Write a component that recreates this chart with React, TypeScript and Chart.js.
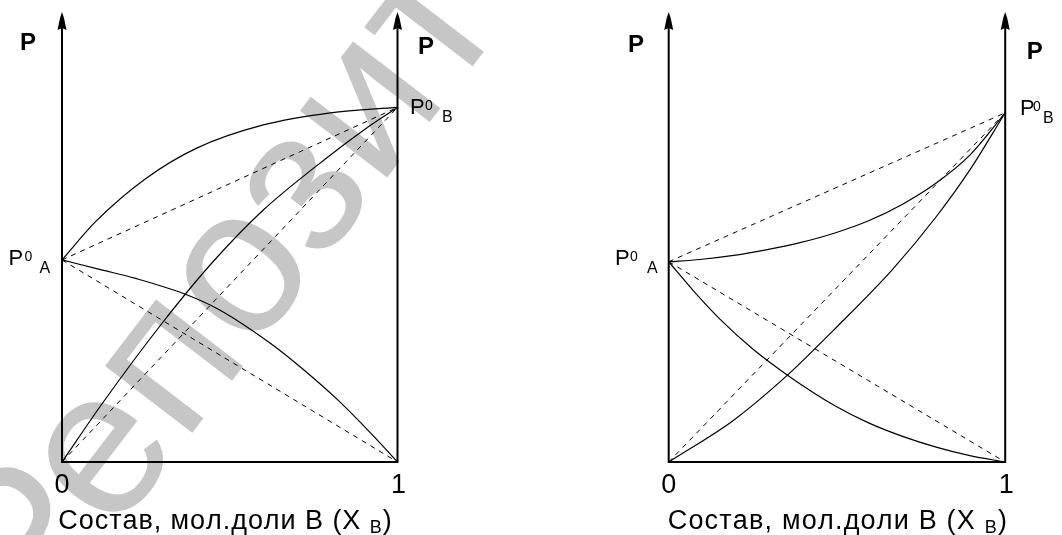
import React, { useEffect, useRef } from 'react';
import { Chart, registerables } from 'chart.js';

Chart.register(...registerables);

const FONT = '"Liberation Sans", Arial, Helvetica, sans-serif';

// Mole-fraction axis ticks and pressure range
const xTicks = [0, 1];
const xTickLabels = ['0', '1'];
const pMax = 100;

// Axis title: "Состав, мол.доли В (Х В)" with subscript В
const axisTitleMain = 'Состав, мол.доли В (Х ';
const axisTitleSub = 'В';
const axisTitleEnd = ')';

// Positive deviation from Raoult's law (left diagram)
const posP0A = 44.9;
const posP0B = 78.8;
const posTotalX = [0, 0.1, 0.25, 0.4, 0.6, 0.8, 1];
const posTotalP = [44.9, 53.4, 63.0, 69.7, 74.9, 77.6, 78.8];
const posAX = [0, 0.118, 0.219, 0.36, 0.47, 0.621, 0.722, 0.822, 0.923, 1];
const posAP = [44.9, 42.7, 40.8, 37.5, 33.8, 26.4, 20.4, 13.8, 6.2, 0];
const posBX = [0, 0.12, 0.3, 0.45, 0.6, 0.75, 0.9, 1];
const posBP = [0, 13.0, 31.0, 44.5, 56.0, 65.3, 73.8, 78.8];

// Negative deviation from Raoult's law (right diagram)
const negP0A = 44.5;
const negP0B = 77.6;
const negTotalX = [0, 0.093, 0.193, 0.293, 0.393, 0.494, 0.594, 0.695, 0.795, 0.895, 1];
const negTotalP = [44.5, 45.0, 45.9, 47.2, 48.8, 50.9, 53.6, 57.3, 62.0, 68.2, 77.6];
const negAX = [0, 0.073, 0.153, 0.25, 0.353, 0.494, 0.594, 0.695, 0.795, 0.895, 1];
const negAP = [44.5, 38.1, 31.7, 25.1, 19.3, 12.5, 8.7, 5.7, 3.3, 1.4, 0];
const negBX = [0, 0.193, 0.353, 0.494, 0.664, 0.795, 0.895, 1];
const negBP = [0, 9.3, 19.3, 29.6, 42.7, 54.5, 64.9, 77.6];

const PANEL_W = 531;
const PANEL_H = 535;

type Layout = {
  left: number;
  padding: { left: number; right: number; top: number; bottom: number };
  pLeft: { dx: number; cy: number };
  pRight: { dx: number; cy: number };
  p0A: { dx: number; dy: number; zeroDx: number; subDx: number };
  p0B: { dx: number; dy: number; zeroDx: number; subDx: number };
  title: { startDx: number; endDx: number };
  watermark: boolean;
};

type Spec = {
  p0A: number;
  p0B: number;
  total: [number[], number[]];
  partA: [number[], number[]];
  partB: [number[], number[]];
  layout: Layout;
};

const specs: Spec[] = [
  {
    p0A: posP0A,
    p0B: posP0B,
    total: [posTotalX, posTotalP],
    partA: [posAX, posAP],
    partB: [posBX, posBP],
    layout: {
      left: 0,
      padding: { left: 62, right: 133.5, top: 12, bottom: 73 },
      pLeft: { dx: -34, cy: 43 },
      pRight: { dx: 28.5, cy: 47 },
      p0A: { dx: -53.5, dy: 5, zeroDx: 16, subDx: 31 },
      p0B: { dx: 12.5, dy: 7, zeroDx: 15, subDx: 32 },
      title: { startDx: -3.7, endDx: -5.8 },
      watermark: true,
    },
  },
  {
    p0A: negP0A,
    p0B: negP0B,
    total: [negTotalX, negTotalP],
    partA: [negAX, negAP],
    partB: [negBX, negBP],
    layout: {
      left: 531,
      padding: { left: 137.7, right: 56.8, top: 12, bottom: 73 },
      pLeft: { dx: -32.7, cy: 45.5 },
      pRight: { dx: 29.5, cy: 52 },
      p0A: { dx: -53.7, dy: 3.5, zeroDx: 15, subDx: 32 },
      p0B: { dx: 14.8, dy: 2.5, zeroDx: 13, subDx: 23 },
      title: { startDx: -1, endDx: 1.7 },
      watermark: false,
    },
  },
];

const points = (xs: number[], ps: number[]) => xs.map((x, i) => ({ x, y: ps[i] }));

const solid = (data: { x: number; y: number }[]) => ({
  data,
  borderColor: '#000',
  borderWidth: 1.2,
  pointRadius: 0,
  fill: false,
  cubicInterpolationMode: 'monotone' as const,
});

const dashed = (data: { x: number; y: number }[]) => ({
  data,
  borderColor: '#000',
  borderWidth: 1,
  borderDash: [5, 5],
  pointRadius: 0,
  fill: false,
});

// Diagonal grey stamp across the left diagram, centred on its "о"
function drawWatermark(ctx: CanvasRenderingContext2D) {
  ctx.save();
  ctx.fillStyle = 'rgb(198,198,198)';
  const size = 208;
  ctx.font = `${size}px ${FONT}`;
  ctx.textAlign = 'left';
  ctx.textBaseline = 'alphabetic';
  const lead = ctx.measureText('Реп').width + ctx.measureText('о').width / 2;
  ctx.translate(244, 276);
  ctx.rotate((-52.6 * Math.PI) / 180);
  ctx.fillText('Репозиторий', -lead, size * 0.26);
  ctx.restore();
}

function drawArrowUp(ctx: CanvasRenderingContext2D, x: number, tip: number) {
  ctx.beginPath();
  ctx.moveTo(x, tip);
  ctx.lineTo(x + 2, tip + 6);
  ctx.lineTo(x + 4.5, tip + 18);
  ctx.lineTo(x, tip + 16);
  ctx.lineTo(x - 4.5, tip + 18);
  ctx.lineTo(x - 2, tip + 6);
  ctx.closePath();
  ctx.fill();
}

function drawP0(
  ctx: CanvasRenderingContext2D,
  x: number,
  baseline: number,
  sub: string,
  zeroDx: number,
  subDx: number
) {
  ctx.textAlign = 'left';
  ctx.textBaseline = 'alphabetic';
  ctx.font = `22px ${FONT}`;
  ctx.fillText('P', x, baseline);
  ctx.font = `14px ${FONT}`;
  ctx.fillText('0', x + zeroDx, baseline - 4);
  ctx.font = `16px ${FONT}`;
  ctx.fillText(sub, x + subDx, baseline + 8);
}

function drawTitle(ctx: CanvasRenderingContext2D, xStart: number, xEnd: number, baseline: number) {
  const mainSize = 27;
  const subSize = 18;
  ctx.textAlign = 'left';
  ctx.textBaseline = 'alphabetic';
  const parts: { ch: string; size: number; dy: number }[] = [];
  for (const ch of axisTitleMain) parts.push({ ch, size: mainSize, dy: 0 });
  for (const ch of axisTitleSub) parts.push({ ch, size: subSize, dy: 4.5 });
  for (const ch of axisTitleEnd) parts.push({ ch, size: mainSize, dy: 0 });
  const widths = parts.map((p) => {
    ctx.font = `${p.size}px ${FONT}`;
    return ctx.measureText(p.ch).width;
  });
  const total = widths.reduce((a, b) => a + b, 0);
  const gap = Math.max(0, (xEnd - xStart - total) / (parts.length - 1));
  let x = xStart;
  parts.forEach((p, i) => {
    ctx.font = `${p.size}px ${FONT}`;
    ctx.fillText(p.ch, x, baseline + p.dy);
    x += widths[i] + gap;
  });
}

function makeDecor(spec: Spec) {
  const L = spec.layout;
  return {
    id: 'diagramDecor',
    beforeDatasetsDraw(chart: any) {
      const ctx: CanvasRenderingContext2D = chart.ctx;
      const xs = chart.scales.x;
      const ys = chart.scales.y;
      if (L.watermark) drawWatermark(ctx);
      const x0 = xs.getPixelForValue(xTicks[0]);
      const x1 = xs.getPixelForValue(xTicks[1]);
      const y0 = ys.getPixelForValue(0);
      const yTop = ys.getPixelForValue(pMax);
      ctx.save();
      ctx.strokeStyle = '#000';
      ctx.fillStyle = '#000';
      ctx.lineWidth = 2;
      ctx.beginPath();
      ctx.moveTo(x0, y0);
      ctx.lineTo(x0, yTop + 14);
      ctx.moveTo(x1, y0);
      ctx.lineTo(x1, yTop + 14);
      ctx.moveTo(x0 - 1, y0);
      ctx.lineTo(x1 + 1, y0);
      ctx.stroke();
      drawArrowUp(ctx, x0, yTop);
      drawArrowUp(ctx, x1, yTop);
      ctx.restore();
    },
    afterDatasetsDraw(chart: any) {
      const ctx: CanvasRenderingContext2D = chart.ctx;
      const xs = chart.scales.x;
      const ys = chart.scales.y;
      const x0 = xs.getPixelForValue(xTicks[0]);
      const x1 = xs.getPixelForValue(xTicks[1]);
      const y0 = ys.getPixelForValue(0);
      ctx.save();
      ctx.fillStyle = '#000';

      // pressure axis labels
      ctx.font = `bold 24px ${FONT}`;
      ctx.textAlign = 'center';
      ctx.textBaseline = 'middle';
      ctx.fillText('P', x0 + L.pLeft.dx, L.pLeft.cy);
      ctx.fillText('P', x1 + L.pRight.dx, L.pRight.cy);

      // vapour pressures of the pure components
      const yA = ys.getPixelForValue(spec.p0A);
      const yB = ys.getPixelForValue(spec.p0B);
      drawP0(ctx, x0 + L.p0A.dx, yA + L.p0A.dy, 'A', L.p0A.zeroDx, L.p0A.subDx);
      drawP0(ctx, x1 + L.p0B.dx, yB + L.p0B.dy, 'B', L.p0B.zeroDx, L.p0B.subDx);

      // composition ticks
      ctx.font = `27px ${FONT}`;
      ctx.textAlign = 'center';
      ctx.textBaseline = 'alphabetic';
      xTicks.forEach((t, i) => {
        const px = xs.getPixelForValue(t) + (i === 1 ? 1 : 0);
        ctx.fillText(xTickLabels[i], px, y0 + 31);
      });

      drawTitle(ctx, x0 + L.title.startDx, x1 + L.title.endDx, y0 + 66.5);
      ctx.restore();
    },
  };
}

function Panel({ spec }: { spec: Spec }) {
  const ref = useRef<HTMLCanvasElement>(null);
  useEffect(() => {
    if (!ref.current) return;
    const idealTotal = [
      { x: 0, y: spec.p0A },
      { x: 1, y: spec.p0B },
    ];
    const idealA = [
      { x: 0, y: spec.p0A },
      { x: 1, y: 0 },
    ];
    const idealB = [
      { x: 0, y: 0 },
      { x: 1, y: spec.p0B },
    ];
    const chart = new Chart(ref.current, {
      type: 'line',
      data: {
        datasets: [
          dashed(idealTotal),
          dashed(idealA),
          dashed(idealB),
          solid(points(spec.total[0], spec.total[1])),
          solid(points(spec.partA[0], spec.partA[1])),
          solid(points(spec.partB[0], spec.partB[1])),
        ] as any,
      },
      options: {
        animation: false,
        responsive: false,
        events: [],
        layout: { padding: spec.layout.padding },
        plugins: {
          legend: { display: false },
          tooltip: { enabled: false },
        },
        scales: {
          x: { type: 'linear', min: 0, max: 1, display: false },
          y: { type: 'linear', min: 0, max: pMax, display: false },
        },
      },
      plugins: [makeDecor(spec)],
    });
    return () => chart.destroy();
  }, [spec]);
  return (
    <canvas
      ref={ref}
      width={PANEL_W}
      height={PANEL_H}
      style={{ position: 'absolute', left: spec.layout.left, top: 0, width: PANEL_W, height: PANEL_H }}
    />
  );
}

export default function App() {
  return (
    <div style={{ position: 'absolute', left: 0, top: 0, width: 1062, height: 535, background: '#fff' }}>
      {specs.map((s, i) => (
        <Panel key={i} spec={s} />
      ))}
    </div>
  );
}
